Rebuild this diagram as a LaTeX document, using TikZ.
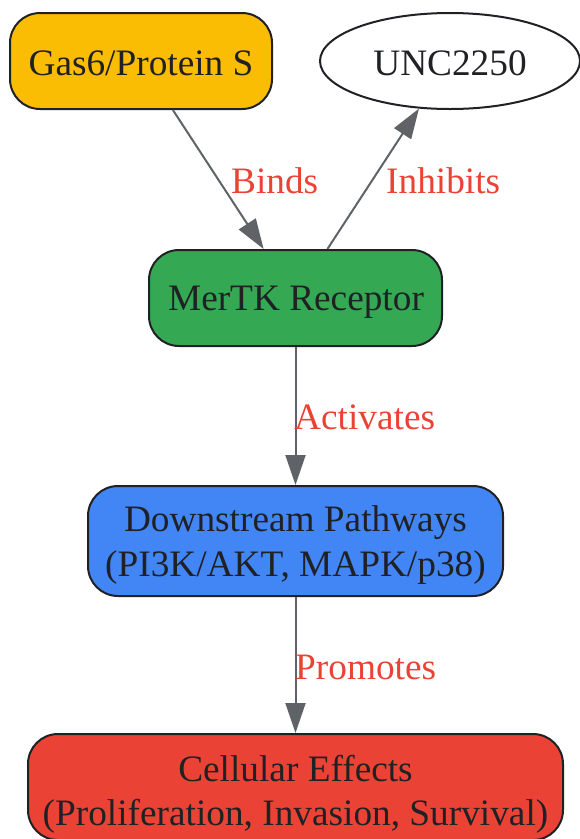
\documentclass[tikz,border=0pt]{standalone}
\usepackage{fontspec}
\setmainfont{Liberation Serif}
\usetikzlibrary{shapes.geometric,arrows.meta}
\definecolor{gy}{HTML}{FBBC04}
\definecolor{gg}{HTML}{34A853}
\definecolor{gb}{HTML}{4285F4}
\definecolor{gr}{HTML}{EA4335}
\definecolor{txt}{HTML}{202124}
\definecolor{edge}{HTML}{5F6368}
\tikzset{
  box/.style={draw=txt, line width=2pt, rounded corners=30pt, inner sep=0pt},
  oval/.style={draw=txt, line width=2pt, ellipse, fill=white, inner sep=0pt},
  tx/.style={text=txt, font=\fontsize{37.3}{44}\selectfont, inner sep=0pt, anchor=base},
  conn/.style={draw=edge, line width=2pt, -{Triangle[length=30pt,width=20pt]}},
  lbl/.style={text=gr, font=\fontsize{37.3}{44}\selectfont, inner sep=0pt, anchor=base west},
}
\begin{document}
\begin{tikzpicture}[x=1pt,y=-1pt]
\useasboundingbox (0,0) rectangle (580,839);
\node[box, fill=gy, minimum width=262pt, minimum height=96pt] (g) at (141,61) {};
\node[oval, minimum width=260pt, minimum height=96pt] (u) at (450,61) {};
\node[box, fill=gg, minimum width=293pt, minimum height=96pt] (m) at (295.5,298) {};
\node[box, fill=gb, minimum width=415pt, minimum height=110pt] (d) at (295.5,541) {};
\node[box, fill=gr, minimum width=535pt, minimum height=106pt] (c) at (295.5,787) {};
\node[tx] (gt) at (141,75) {Gas6/Protein S};
\node[tx] (ut) at (450,75) {UNC2250};
\node[tx] (mt) at (296,310.7) {MerTK Receptor};
\node[tx] (dt1) at (295.5,531.7) {Downstream Pathways};
\node[tx] (dt2) at (295.5,576) {(PI3K/AKT, MAPK/p38)};
\node[tx] (ct1) at (295.5,781) {Cellular Effects};
\node[tx] (ct2) at (295.5,825) {(Proliferation, Invasion, Survival)};
\draw[conn] (g) -- (m);
\draw[conn] (m) -- (u);
\draw[conn] (m) -- (d);
\draw[conn] (d) -- (c);
\node[lbl] (lb) at (231,193) {Binds};
\node[lbl] (li) at (386,193) {Inhibits};
\node[lbl] (la) at (294,429) {Activates};
\node[lbl] (lp) at (295,679) {Promotes};
\end{tikzpicture}
\end{document}
